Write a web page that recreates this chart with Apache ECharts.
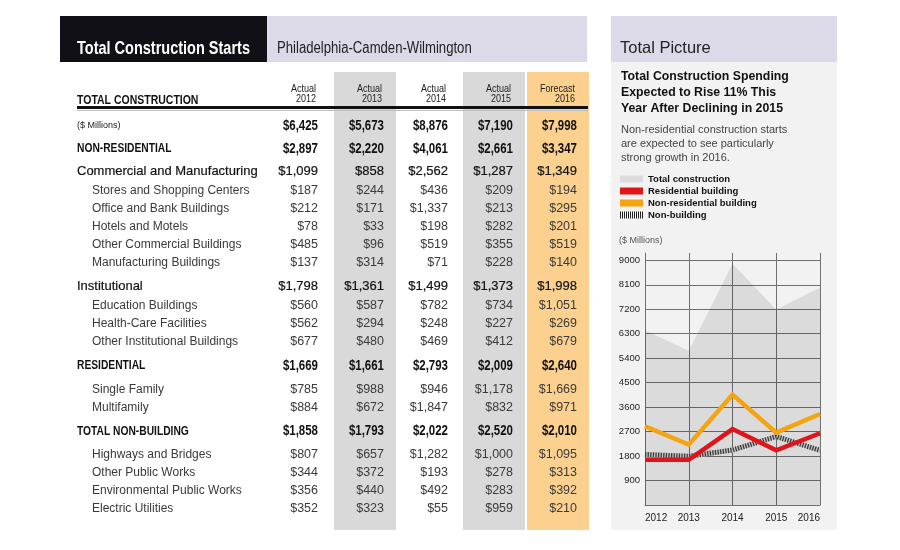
<!DOCTYPE html>
<html><head><meta charset="utf-8">
<script src="https://cdn.jsdelivr.net/npm/echarts@6/dist/echarts.min.js"></script>
<style>html,body{margin:0;padding:0;background:#fff}#c{width:900px;height:550px}</style>
</head><body><div id="c"></div>
<script>
// ---------------- DATA ----------------
const years = ['2012', '2013', '2014', '2015', '2016'];
const yearHeads = ['Actual', 'Actual', 'Actual', 'Actual', 'Forecast'];
const rowLabels = ['($ Millions)', 'NON-RESIDENTIAL', 'Commercial and Manufacturing', 'Stores and Shopping Centers',
  'Office and Bank Buildings', 'Hotels and Motels', 'Other Commercial Buildings', 'Manufacturing Buildings',
  'Institutional', 'Education Buildings', 'Health-Care Facilities', 'Other Institutional Buildings',
  'RESIDENTIAL', 'Single Family', 'Multifamily', 'TOTAL NON-BUILDING', 'Highways and Bridges',
  'Other Public Works', 'Environmental Public Works', 'Electric Utilities'];
const rowKinds = ['total', 'section', 'group', 'item', 'item', 'item', 'item', 'item', 'group', 'item', 'item', 'item',
  'section', 'item', 'item', 'section', 'item', 'item', 'item', 'item'];
const totalConstruction = [6425, 5673, 8876, 7190, 7998];
const nonResidential = [2897, 2220, 4061, 2661, 3347];
const commercialMfg = [1099, 858, 2562, 1287, 1349];
const stores = [187, 244, 436, 209, 194];
const office = [212, 171, 1337, 213, 295];
const hotels = [78, 33, 198, 282, 201];
const otherCommercial = [485, 96, 519, 355, 519];
const manufacturing = [137, 314, 71, 228, 140];
const institutional = [1798, 1361, 1499, 1373, 1998];
const education = [560, 587, 782, 734, 1051];
const healthCare = [562, 294, 248, 227, 269];
const otherInstitutional = [677, 480, 469, 412, 679];
const residential = [1669, 1661, 2793, 2009, 2640];
const singleFamily = [785, 988, 946, 1178, 1669];
const multifamily = [884, 672, 1847, 832, 971];
const nonBuilding = [1858, 1793, 2022, 2520, 2010];
const highways = [807, 657, 1282, 1000, 1095];
const otherPublic = [344, 372, 193, 278, 313];
const environmental = [356, 440, 492, 283, 392];
const electric = [352, 323, 55, 959, 210];
const rowValues = [totalConstruction, nonResidential, commercialMfg, stores, office, hotels, otherCommercial,
  manufacturing, institutional, education, healthCare, otherInstitutional, residential, singleFamily,
  multifamily, nonBuilding, highways, otherPublic, environmental, electric];
const yInterval = 900;
const legendNames = ['Total construction', 'Residential building', 'Non-residential building', 'Non-building'];

// ---------------- STYLE / LAYOUT ----------------
const SANS = "'Liberation Sans',Arial,Helvetica,sans-serif";
const N = 0.82; // narrow (condensed) horizontal scale
const COL_R = [318, 384, 448, 513, 577];
const SHADE = {1: '#d9d9d9', 3: '#d9d9d9', 4: '#fcd18f'};
const STEP = {'total>section': 23, 'section>group': 22, 'group>item': 20, 'item>item': 18,
  'item>group': 23, 'item>section': 24, 'section>item': 23.5};
const KIND = {
  total:   {lx: 77, ls: 9, lw: 'normal', lc: '#222', lsx: 1, lb: 0, vs: 14, vw: 'bold', vc: '#111', vsx: N, vb: 0},
  section: {lx: 77, ls: 12.5, lw: 'bold', lc: '#111', lsx: N, lb: 0, vs: 14, vw: 'bold', vc: '#111', vsx: N, vb: 0},
  group:   {lx: 77, ls: 13, lw: 'normal', lc: '#111', lsx: 1, lb: 0.2, vs: 13, vw: 'normal', vc: '#111', vsx: 1, vb: 0.2},
  item:    {lx: 92, ls: 12, lw: 'normal', lc: '#3a3a3a', lsx: 1, lb: 0, vs: 12.5, vw: 'normal', vc: '#3a3a3a', vsx: 1, vb: 0}
};

function txt(x, y, text, size, weight, color, align, sx, bw) {
  const st = {text: text, fontFamily: SANS, fontSize: size, fontWeight: weight, fill: color,
    textAlign: align || 'left', textVerticalAlign: 'middle'};
  if (bw) { st.stroke = color; st.lineWidth = bw; }
  return {type: 'text', x: x, y: y, z: 20, silent: true, scaleX: sx || 1, style: st};
}
function rect(x, y, w, h, color, z) {
  return {type: 'rect', z: z, silent: true, shape: {x: x, y: y, width: w, height: h}, style: {fill: color}};
}
const fmt = v => '$' + v.toLocaleString('en-US');

const els = [];
// Header boxes
els.push(rect(60, 16, 207, 46, '#111016', 1));
els.push(rect(267, 16, 320, 46, '#dcd9e9', 1));
els.push(txt(77, 49, 'Total Construction Starts', 17.7, 'bold', '#fff', 'left', N));
els.push(txt(277, 49, 'Philadelphia-Camden-Wilmington', 16, 'normal', '#222', 'left', N));
// Column shading
Object.keys(SHADE).forEach(k => {
  const j = +k;
  els.push(rect(COL_R[j] - 50, 72, 62, 458, SHADE[k], 1));
});
// Column heads
years.forEach((y, j) => {
  els.push(txt(COL_R[j] - 2, 89, yearHeads[j], 11, 'normal', '#222', 'right', N));
  els.push(txt(COL_R[j] - 2, 99, y, 11, 'normal', '#222', 'right', N));
});
els.push(txt(77, 100, 'TOTAL CONSTRUCTION', 12.8, 'bold', '#111', 'left', N));
els.push(rect(77, 106, 511, 3, '#111', 5));
els.push(rect(77, 110, 511, 1, '#bdbdbd', 5));
// Rows
let yy = 126;
rowLabels.forEach((lab, i) => {
  if (i > 0) yy += STEP[rowKinds[i - 1] + '>' + rowKinds[i]];
  const k = KIND[rowKinds[i]];
  els.push(txt(k.lx, yy, lab, k.ls, k.lw, k.lc, 'left', k.lsx, k.lb));
  rowValues[i].forEach((v, j) => {
    els.push(txt(COL_R[j], yy, fmt(v), k.vs, k.vw, k.vc, 'right', k.vsx, k.vb));
  });
});
// Right panel
els.push(rect(611, 16, 226, 46, '#dcd9e9', -10));
els.push(rect(611, 62, 226, 468, '#f2f2f2', -10));
els.push(txt(620, 48, 'Total Picture', 16.5, 'normal', '#222'));
els.push({type: 'text', x: 621, y: 69, z: 20, silent: true, style: {
  text: 'Total Construction Spending\nExpected to Rise 11% This\nYear After Declining in 2015',
  fontFamily: SANS, fontSize: 12.3, fontWeight: 'bold', fill: '#111', lineHeight: 16, textVerticalAlign: 'top'}});
els.push({type: 'text', x: 621, y: 123, z: 20, silent: true, style: {
  text: 'Non-residential construction starts\nare expected to see particularly\nstrong growth in 2016.',
  fontFamily: SANS, fontSize: 11, fontWeight: 'normal', fill: '#444', lineHeight: 14, textVerticalAlign: 'top'}});
els.push(txt(619, 241, '($ Millions)', 9, 'normal', '#555'));

let stripes = '';
for (let s = 0; s < 12; s++) stripes += 'M' + (s * 2) + ',0h1v7h-1z';

const chart = echarts.init(document.getElementById('c'), null, {renderer: 'canvas'});
chart.setOption({
  animation: false,
  backgroundColor: '#fff',
  graphic: {elements: els},
  grid: {left: 645, right: 80, top: 253, bottom: 45, containLabel: false},
  legend: {
    orient: 'vertical', left: 620, top: 173, itemWidth: 23, itemHeight: 7, itemGap: 0,
    selectedMode: false, padding: 0,
    textStyle: {fontFamily: SANS, fontWeight: 'bold', fontSize: 9.5, color: '#111', lineHeight: 12},
    data: [
      {name: legendNames[0], icon: 'rect', itemStyle: {color: '#dcdcdc', borderWidth: 0}},
      {name: legendNames[1], icon: 'rect', itemStyle: {color: '#e2141b', borderWidth: 0}},
      {name: legendNames[2], icon: 'rect', itemStyle: {color: '#f5a30f', borderWidth: 0}},
      {name: legendNames[3], icon: 'path://' + stripes, itemStyle: {color: '#222', borderWidth: 0}}
    ]
  },
  xAxis: {
    type: 'category', data: years, boundaryGap: false,
    axisLine: {show: true, lineStyle: {color: '#707070', width: 1}},
    axisTick: {show: false},
    axisLabel: {color: '#222', fontSize: 10, fontFamily: SANS, margin: 8,
      alignMinLabel: 'left', alignMaxLabel: 'right'},
    splitLine: {show: true, lineStyle: {color: '#707070', width: 1}}
  },
  yAxis: {
    type: 'value', min: 0, max: 9270, interval: yInterval,
    axisLine: {show: true, lineStyle: {color: '#707070', width: 1}},
    axisTick: {show: false},
    axisLabel: {color: '#222', fontSize: 9.5, fontFamily: SANS, margin: 5, showMaxLabel: false,
      showMinLabel: false, formatter: v => String(v)},
    splitLine: {show: true, showMaxLine: false, lineStyle: {color: '#707070', width: 1}}
  },
  series: [
    {name: legendNames[0], type: 'line', data: totalConstruction, symbol: 'none', z: 1,
      lineStyle: {width: 0}, areaStyle: {color: 'rgba(0,0,0,0.095)', opacity: 1}},
    {name: 'nb-base', type: 'line', data: nonBuilding, symbol: 'none', z: 3,
      lineStyle: {color: '#c4c4c4', width: 5, join: 'miter', cap: 'butt'}},
    {name: legendNames[3], type: 'line', data: nonBuilding, symbol: 'none', z: 4, color: '#333',
      lineStyle: {color: '#3a3a3a', width: 5, type: [1.3, 1.3], join: 'miter', cap: 'butt'}},
    {name: legendNames[1], type: 'line', data: residential, symbol: 'none', z: 5, color: '#e2141b',
      lineStyle: {color: '#e2141b', width: 4.5, join: 'miter', cap: 'butt'}},
    {name: legendNames[2], type: 'line', data: nonResidential, symbol: 'none', z: 6, color: '#f5a30f',
      lineStyle: {color: '#f5a30f', width: 4.5, join: 'miter', cap: 'butt'}}
  ]
});
</script></body></html>
